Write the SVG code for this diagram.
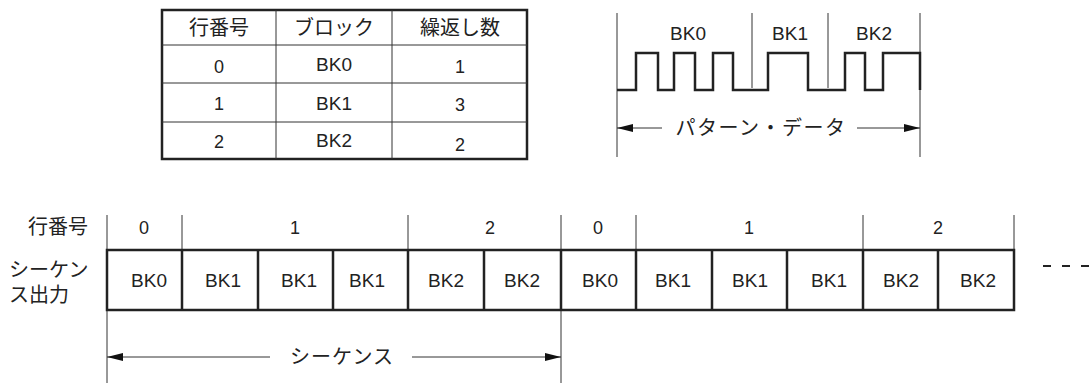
<svg xmlns="http://www.w3.org/2000/svg" width="1091" height="383" viewBox="0 0 1091 383">
<style>
text{font-family:"Liberation Sans","Noto Sans CJK JP",sans-serif;fill:#222;}
.jp{font-size:20px;}
.num{font-size:18px;text-anchor:middle;}
.bk{font-size:19px;text-anchor:middle;}
.thin{stroke:#333;stroke-width:1;fill:none;}
.thick{stroke:#222;stroke-width:2.5;fill:none;}
.mid{text-anchor:middle;}
</style>
<defs>
<marker id="ah" viewBox="0 0 16 8" refX="16" refY="4" markerWidth="16" markerHeight="8" markerUnits="userSpaceOnUse" orient="auto-start-reverse">
<path d="M0,0 L16,4 L0,8 Z" fill="#111"/>
</marker>
</defs>
<rect width="1091" height="383" fill="#fff"/>

<g id="table">
<rect x="162" y="10" width="365" height="149" class="thick" stroke-width="2"/>
<line x1="276" y1="10" x2="276" y2="159" class="thin"/>
<line x1="392" y1="10" x2="392" y2="159" class="thin"/>
<line x1="162" y1="45" x2="527" y2="45" class="thin"/>
<line x1="162" y1="83" x2="527" y2="83" class="thin"/>
<line x1="162" y1="122" x2="527" y2="122" class="thin"/>
<text x="219" y="35" class="jp mid">行番号</text>
<text x="334" y="35" class="jp mid">ブロック</text>
<text x="460" y="35" class="jp mid">繰返し数</text>
<text x="219" y="73" class="num">0</text>
<text x="334" y="71" class="bk" font-size="18">BK0</text>
<text x="460" y="73" class="num">1</text>
<text x="219" y="110" class="num">1</text>
<text x="334" y="110" class="bk" font-size="18">BK1</text>
<text x="460" y="111" class="num">3</text>
<text x="219" y="148" class="num">2</text>
<text x="334" y="147" class="bk" font-size="18">BK2</text>
<text x="460" y="151" class="num">2</text>
</g>

<g id="waveform">
<line x1="617" y1="13" x2="617" y2="157" class="thin"/>
<line x1="920" y1="13" x2="920" y2="157" class="thin"/>
<line x1="752" y1="13" x2="752" y2="88" class="thin"/>
<line x1="828" y1="13" x2="828" y2="88" class="thin"/>
<path d="M617,90 H636 V53 H658 V90 H674 V53 H695 V90 H713 V53 H733 V90 H768 V53 H808 V90 H845 V53 H865 V90 H883 V53 H920 V90" class="thick"/>
<text x="688" y="40" class="bk">BK0</text>
<text x="790" y="40" class="bk">BK1</text>
<text x="874" y="40" class="bk">BK2</text>
<text x="761" y="135" class="jp mid" letter-spacing="1.5">パターン・データ</text>
</g>

<g id="sequence">
<text x="88" y="234" class="jp" text-anchor="end">行番号</text>
<text x="9" y="277" class="jp">シーケン</text>
<text x="9" y="302" class="jp">ス出力</text>
<line x1="107" y1="215" x2="107" y2="383" class="thin"/>
<line x1="182" y1="215" x2="182" y2="250" class="thin"/>
<line x1="408" y1="215" x2="408" y2="250" class="thin"/>
<line x1="561" y1="215" x2="561" y2="383" class="thin"/>
<line x1="636" y1="215" x2="636" y2="250" class="thin"/>
<line x1="863" y1="215" x2="863" y2="250" class="thin"/>
<line x1="1014" y1="215" x2="1014" y2="250" class="thin"/>
<text x="144" y="234" class="num">0</text>
<text x="295" y="234" class="num">1</text>
<text x="490" y="234" class="num">2</text>
<text x="598" y="234" class="num">0</text>
<text x="749" y="234" class="num">1</text>
<text x="938" y="234" class="num">2</text>
<rect x="107" y="250" width="907" height="60" class="thick"/>
<path d="M182,250V310M258,250V310M333,250V310M408,250V310M484,250V310M561,250V310M636,250V310M712,250V310M787,250V310M863,250V310M938,250V310" class="thick"/>
<text x="149" y="287" class="bk">BK0</text>
<text x="223" y="287" class="bk">BK1</text>
<text x="299" y="287" class="bk">BK1</text>
<text x="367" y="287" class="bk">BK1</text>
<text x="446" y="287" class="bk">BK2</text>
<text x="522" y="287" class="bk">BK2</text>
<text x="600" y="287" class="bk">BK0</text>
<text x="673" y="287" class="bk">BK1</text>
<text x="750" y="287" class="bk">BK1</text>
<text x="829" y="287" class="bk">BK1</text>
<text x="901" y="287" class="bk">BK2</text>
<text x="978" y="287" class="bk">BK2</text>
<path d="M1043,266H1051M1062,266H1070M1081,266H1089" stroke="#222" stroke-width="2"/>
<text x="342" y="364" class="jp mid" letter-spacing="1">シーケンス</text>
</g>

<g id="connectors">
<line x1="270" y1="357" x2="107" y2="357" class="thin" marker-end="url(#ah)"/>
<line x1="412" y1="357" x2="561" y2="357" class="thin" marker-end="url(#ah)"/>
<line x1="662" y1="128" x2="617" y2="128" class="thin" marker-end="url(#ah)"/>
<line x1="857" y1="128" x2="920" y2="128" class="thin" marker-end="url(#ah)"/>
</g>
</svg>
